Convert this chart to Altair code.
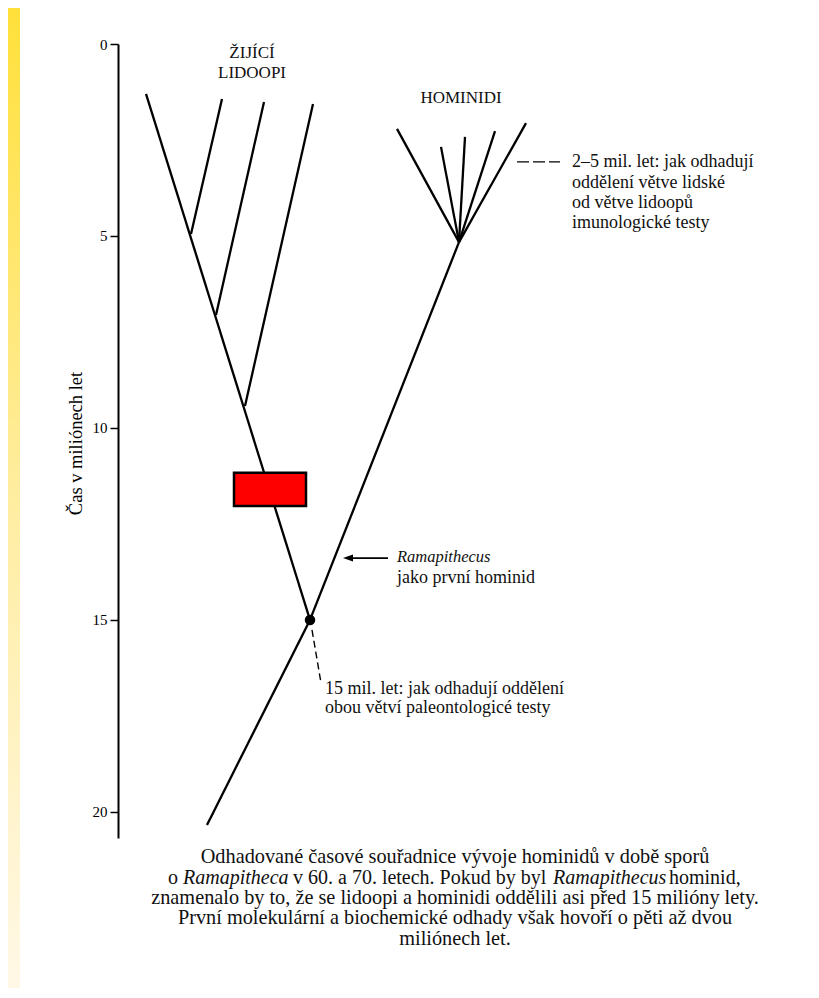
import altair as alt
import pandas as pd

# ---------------- data ----------------
# horizontal position unit ~ page pixels; vertical = time in millions of years
seg_x1 = [146, 191, 216, 245, 207, 310, 459, 459, 459, 459, 459]
seg_t1 = [1.30, 4.95, 7.06, 9.43, 20.34, 15.0, 5.16, 5.16, 5.16, 5.16, 5.16]
seg_x2 = [310, 222, 264, 313, 310, 459, 397, 441, 465, 495, 526]
seg_t2 = [15.0, 1.43, 1.51, 1.56, 15.0, 5.16, 2.21, 2.68, 2.42, 2.27, 2.06]

box_x = [234]
box_x2 = [306]
box_t = [11.17]
box_t2 = [12.03]

node_x = [310]
node_t = [15.0]

dash_lo_x = [312]
dash_lo_x2 = [321]
dash_lo_t = [15.26]
dash_lo_t2 = [16.64]

dash_hi_x = [517]
dash_hi_x2 = [560]
dash_hi_t = [3.07]

arrow_x = [388]
arrow_x2 = [348]
arrow_t = [13.39]

ann_text = ["2–5 mil. let: jak odhadují", "oddělení větve lidské", "od větve lidoopů",
            "imunologické testy", "jako první hominid",
            "15 mil. let: jak odhadují oddělení", "obou větví paleontologicé testy"]
ann_x = [572, 572, 572, 572, 397, 325, 325]
ann_t = [3.07, 3.62, 4.14, 4.66, 13.90, 16.80, 17.29]

ital_text = ["Ramapithecus"]
ital_x = [397]
ital_t = [13.36]

cap_text = ["ŽIJÍCÍ", "LIDOOPI", "HOMINIDI"]
cap_x = [252, 252, 461]
cap_t = [0.23, 0.76, 1.41]

caption_lines = ["Odhadované časové souřadnice vývoje hominidů v době sporů",
                 "znamenalo by to, že se lidoopi a hominidi oddělili asi před 15 milióny lety.",
                 "První molekulární a biochemické odhady však hovoří o pěti až dvou",
                 "miliónech let."]
caption_x = [455, 455, 455, 455]
caption_t = [21.17, 22.24, 22.76, 23.31]

line2_text = ["o", "v 60. a 70. letech. Pokud by byl", "hominid,"]
line2_x = [168, 293, 669]
line2_ital_text = ["Ramapitheca", "Ramapithecus"]
line2_ital_x = [183, 553]
line2_t = 21.72

y_ticks = [0, 5, 10, 15, 20]

FONT = "Liberation Serif"
X_DOM = [118, 811]
T_DOM = [0, 20.68]

xs = alt.Scale(domain=X_DOM, nice=False, zero=False)
ys = alt.Scale(domain=T_DOM, nice=False, zero=False, reverse=True)

seg_df = pd.DataFrame({"x": seg_x1, "t": seg_t1, "x2": seg_x2, "t2": seg_t2})

base_axis = alt.Axis(
    values=y_ticks, grid=False, tickSize=8, tickWidth=1.5, tickColor="black",
    domainColor="black", domainWidth=2, labelFont=FONT, labelFontSize=15,
    labelColor="black", labelPadding=3, title="Čas v miliónech let",
    titleFont=FONT, titleFontSize=18.5, titleFontWeight="normal", titleColor="black",
    titleX=-43, titleY=399, titleAngle=-90, titleAlign="center", titleBaseline="middle",
)

strip = alt.Chart(pd.DataFrame({"k": [0]})).mark_rect(
    fill=alt.Gradient(gradient="linear", x1=0, x2=0, y1=0, y2=1,
                      stops=[alt.GradientStop(offset=0, color="#FFE03A"),
                             alt.GradientStop(offset=0.5, color="#FFEDA0"),
                             alt.GradientStop(offset=1, color="#FFF8E6")])
).encode(x=alt.value(-110), x2=alt.value(-98), y=alt.value(-36), y2=alt.value(944))

segments = alt.Chart(seg_df).mark_rule(color="black", strokeWidth=2.3).encode(
    x=alt.X("x:Q", scale=xs, axis=None),
    x2="x2:Q",
    y=alt.Y("t:Q", scale=ys, axis=base_axis),
    y2="t2:Q",
)

box = alt.Chart(pd.DataFrame({"x": box_x, "x2": box_x2, "t": box_t, "t2": box_t2})).mark_rect(
    fill="#FF0000", stroke="black", strokeWidth=2.5
).encode(x=alt.X("x:Q", scale=xs), x2="x2:Q", y=alt.Y("t:Q", scale=ys), y2="t2:Q")

node = alt.Chart(pd.DataFrame({"x": node_x, "t": node_t})).mark_circle(
    size=110, color="black", opacity=1
).encode(x=alt.X("x:Q", scale=xs), y=alt.Y("t:Q", scale=ys))

dash_lo = alt.Chart(pd.DataFrame({"x": dash_lo_x, "x2": dash_lo_x2, "t": dash_lo_t, "t2": dash_lo_t2})).mark_rule(
    color="black", strokeWidth=1.4, strokeDash=[7, 4]
).encode(x=alt.X("x:Q", scale=xs), x2="x2:Q", y=alt.Y("t:Q", scale=ys), y2="t2:Q")

dash_hi = alt.Chart(pd.DataFrame({"x": dash_hi_x, "x2": dash_hi_x2, "t": dash_hi_t})).mark_rule(
    color="black", strokeWidth=1.4, strokeDash=[12, 4]
).encode(x=alt.X("x:Q", scale=xs), x2="x2:Q", y=alt.Y("t:Q", scale=ys))

arrow_shaft = alt.Chart(pd.DataFrame({"x": arrow_x, "x2": arrow_x2, "t": arrow_t})).mark_rule(
    color="black", strokeWidth=1.6
).encode(x=alt.X("x:Q", scale=xs), x2="x2:Q", y=alt.Y("t:Q", scale=ys))

arrow_head = alt.Chart(pd.DataFrame({"x": arrow_x2, "t": arrow_t})).mark_point(
    shape="M-1,0L1,-0.7L1,0.7Z", size=100, filled=True, color="black", opacity=1
).encode(x=alt.X("x:Q", scale=xs), y=alt.Y("t:Q", scale=ys))

ann = alt.Chart(pd.DataFrame({"x": ann_x, "t": ann_t, "text": ann_text})).mark_text(
    font=FONT, fontSize=18, align="left", baseline="middle", color="#111"
).encode(x=alt.X("x:Q", scale=xs), y=alt.Y("t:Q", scale=ys), text="text:N")

ital = alt.Chart(pd.DataFrame({"x": ital_x, "t": ital_t, "text": ital_text})).mark_text(
    font=FONT, fontSize=16.5, fontStyle="italic", align="left", baseline="middle", color="#111"
).encode(x=alt.X("x:Q", scale=xs), y=alt.Y("t:Q", scale=ys), text="text:N")

caps = alt.Chart(pd.DataFrame({"x": cap_x, "t": cap_t, "text": cap_text})).mark_text(
    font=FONT, fontSize=17, align="center", baseline="middle", color="#111"
).encode(x=alt.X("x:Q", scale=xs), y=alt.Y("t:Q", scale=ys), text="text:N")

caption = alt.Chart(pd.DataFrame({"x": caption_x, "t": caption_t, "text": caption_lines})).mark_text(
    font=FONT, fontSize=20.3, align="center", baseline="middle", color="#111"
).encode(x=alt.X("x:Q", scale=xs), y=alt.Y("t:Q", scale=ys), text="text:N")

line2 = alt.Chart(pd.DataFrame({"x": line2_x, "t": [line2_t] * len(line2_x), "text": line2_text})).mark_text(
    font=FONT, fontSize=20, align="left", baseline="middle", color="#111"
).encode(x=alt.X("x:Q", scale=xs), y=alt.Y("t:Q", scale=ys), text="text:N")

line2_it = alt.Chart(pd.DataFrame({"x": line2_ital_x, "t": [line2_t] * len(line2_ital_x), "text": line2_ital_text})).mark_text(
    font=FONT, fontSize=20, fontStyle="italic", align="left", baseline="middle", color="#111"
).encode(x=alt.X("x:Q", scale=xs), y=alt.Y("t:Q", scale=ys), text="text:N")

chart = alt.layer(
    strip, segments, box, node, dash_lo, dash_hi, arrow_shaft, arrow_head,
    ann, ital, caps, caption, line2, line2_it
).properties(
    width=693, height=794,
    autosize=alt.AutoSizeParams(type="none"),
    padding={"left": 110, "top": 36, "right": 0, "bottom": 150},
    background="white",
).configure_view(stroke=None)

chart.save("out.html", embed_options={"renderer": "svg", "actions": False})
